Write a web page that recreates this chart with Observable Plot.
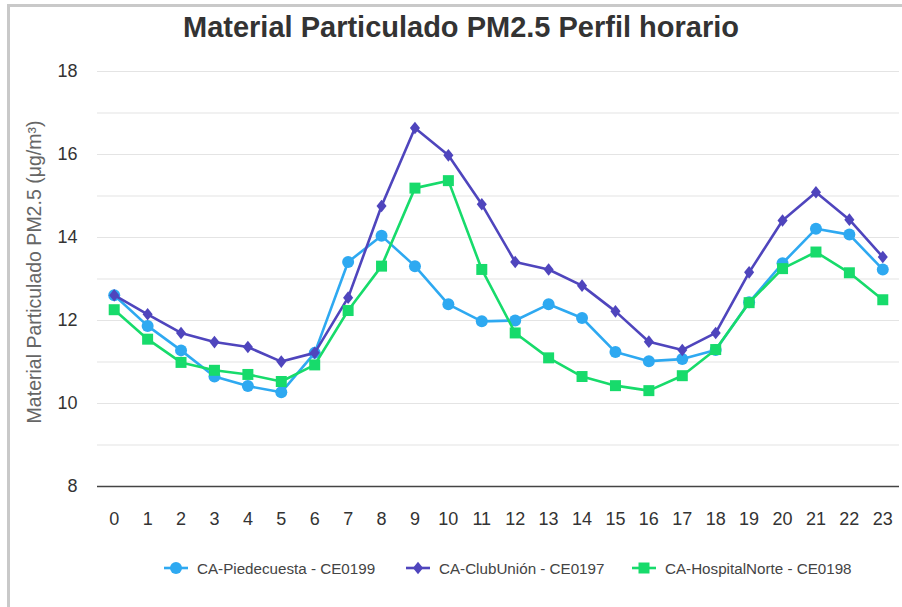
<!DOCTYPE html>
<html>
<head>
<meta charset="utf-8">
<script src="https://cdn.jsdelivr.net/npm/d3@7"></script>
<script src="https://cdn.jsdelivr.net/npm/@observablehq/plot@0.6"></script>
<style>
  html, body { margin: 0; padding: 0; background: #fff; }
  body { width: 902px; height: 607px; position: relative; overflow: hidden; font-family: "Liberation Sans", Arial, sans-serif; }
  #frame { position: absolute; left: 7px; top: 4px; right: 0; bottom: 0; border-left: 3px solid #c9c9c9; border-top: 3px solid #c9c9c9; pointer-events: none; }
  #title { position: absolute; left: 0; width: 922px; top: 13px; line-height: 29px; text-align: center; font-size: 29px; font-weight: bold; color: #333; }
  #chart { position: absolute; left: 0; top: 50px; }
  #ylabel { position: absolute; left: 34px; top: 272px; transform: translate(-50%, -50%) rotate(-90deg); white-space: nowrap; font-size: 19.5px; color: #666; }
  #legend { position: absolute; top: 558px; left: 0; width: 902px; height: 20px; }
  .item { position: absolute; top: 0; display: flex; align-items: center; font-size: 15.2px; color: #444; white-space: nowrap; }
  .item svg { margin-right: 8px; }
</style>
</head>
<body>
<div id="title">Material Particulado PM2.5 Perfil horario</div>
<div id="chart"></div>
<div id="ylabel">Material Particulado PM2.5 (μg/m³)</div>
<div id="legend"></div>
<div id="frame"></div>
<script>
const hours = [0,1,2,3,4,5,6,7,8,9,10,11,12,13,14,15,16,17,18,19,20,21,22,23];
const yTicks = [8,10,12,14,16,18];
const gridValues = [9,10,11,12,13,14,15,16,17,18];

const seriesNames = ["CA-Piedecuesta - CE0199", "CA-ClubUnión - CE0197", "CA-HospitalNorte - CE0198"];
const seriesColors = ["#2EA9F1", "#4F45BD", "#17DB6B"];
const seriesR = [6, 4.5, 6.2];

const piedecuesta = [12.61,11.87,11.28,10.65,10.42,10.27,11.22,13.41,14.04,13.31,12.39,11.98,12.00,12.39,12.06,11.24,11.02,11.07,11.29,12.44,13.38,14.21,14.07,13.23];
const clubUnion   = [12.61,12.15,11.70,11.48,11.36,11.01,11.22,12.55,14.76,16.64,15.98,14.80,13.41,13.23,12.84,12.22,11.49,11.29,11.70,13.16,14.41,15.09,14.43,13.53];
const hospitalNorte = [12.26,11.55,10.99,10.80,10.70,10.53,10.93,12.24,13.31,15.19,15.37,13.23,11.70,11.10,10.65,10.43,10.31,10.67,11.30,12.43,13.25,13.65,13.15,12.50];

const seriesValues = [piedecuesta, clubUnion, hospitalNorte];

// wider rhombus, like the reference markers
const rhombus = {
  draw(context, size) {
    const h = Math.sqrt(size / 1.6), w = h * 0.8;
    context.moveTo(0, -h); context.lineTo(w, 0); context.lineTo(0, h); context.lineTo(-w, 0); context.closePath();
  }
};
const seriesSymbols = [d3.symbolCircle, rhombus, d3.symbolSquare];

const marks = [
  Plot.ruleY(gridValues, {stroke: "#e4e4e4", strokeWidth: 1.2}),
  Plot.ruleY([8], {stroke: "#444", strokeWidth: 1.5}),
  Plot.axisY({ticks: yTicks, tickSize: 0, tickPadding: 20, fontSize: 18, color: "#333", label: null}),
  Plot.axisX({ticks: hours, tickSize: 0, tickPadding: 26, fontSize: 18, color: "#333", label: null, tickFormat: d => String(d)})
];
seriesValues.forEach((vals, i) => {
  const data = hours.map((h, j) => ({h, v: vals[j]}));
  marks.push(Plot.line(data, {x: "h", y: "v", stroke: seriesColors[i], strokeWidth: 2.6}));
  marks.push(Plot.dot(data, {x: "h", y: "v", fill: seriesColors[i], stroke: "none", symbol: seriesSymbols[i], r: seriesR[i]}));
});

const chart = Plot.plot({
  width: 902,
  height: 486,
  marginTop: 21,
  marginBottom: 50,
  marginLeft: 97,
  marginRight: 3,
  style: {fontFamily: "'Liberation Sans', Arial, sans-serif", background: "transparent", overflow: "visible"},
  x: {type: "linear", domain: [-0.5, 23.5]},
  y: {domain: [8, 18]},
  marks
});
document.getElementById("chart").appendChild(chart);

// legend
const legendLeft = [163, 405, 631];
const legend = document.getElementById("legend");
seriesNames.forEach((name, i) => {
  const item = document.createElement("div");
  item.className = "item";
  item.style.left = legendLeft[i] + "px";
  const sw = d3.create("svg").attr("width", 26).attr("height", 20);
  sw.append("line").attr("x1", 1).attr("x2", 25).attr("y1", 10).attr("y2", 10)
    .attr("stroke", seriesColors[i]).attr("stroke-width", 2.6);
  sw.append("path").attr("transform", "translate(13,10)")
    .attr("d", d3.symbol(seriesSymbols[i], Math.PI * seriesR[i] * seriesR[i])())
    .attr("fill", seriesColors[i]);
  item.appendChild(sw.node());
  const t = document.createElement("span");
  t.textContent = name;
  item.appendChild(t);
  legend.appendChild(item);
});
</script>
</body>
</html>
